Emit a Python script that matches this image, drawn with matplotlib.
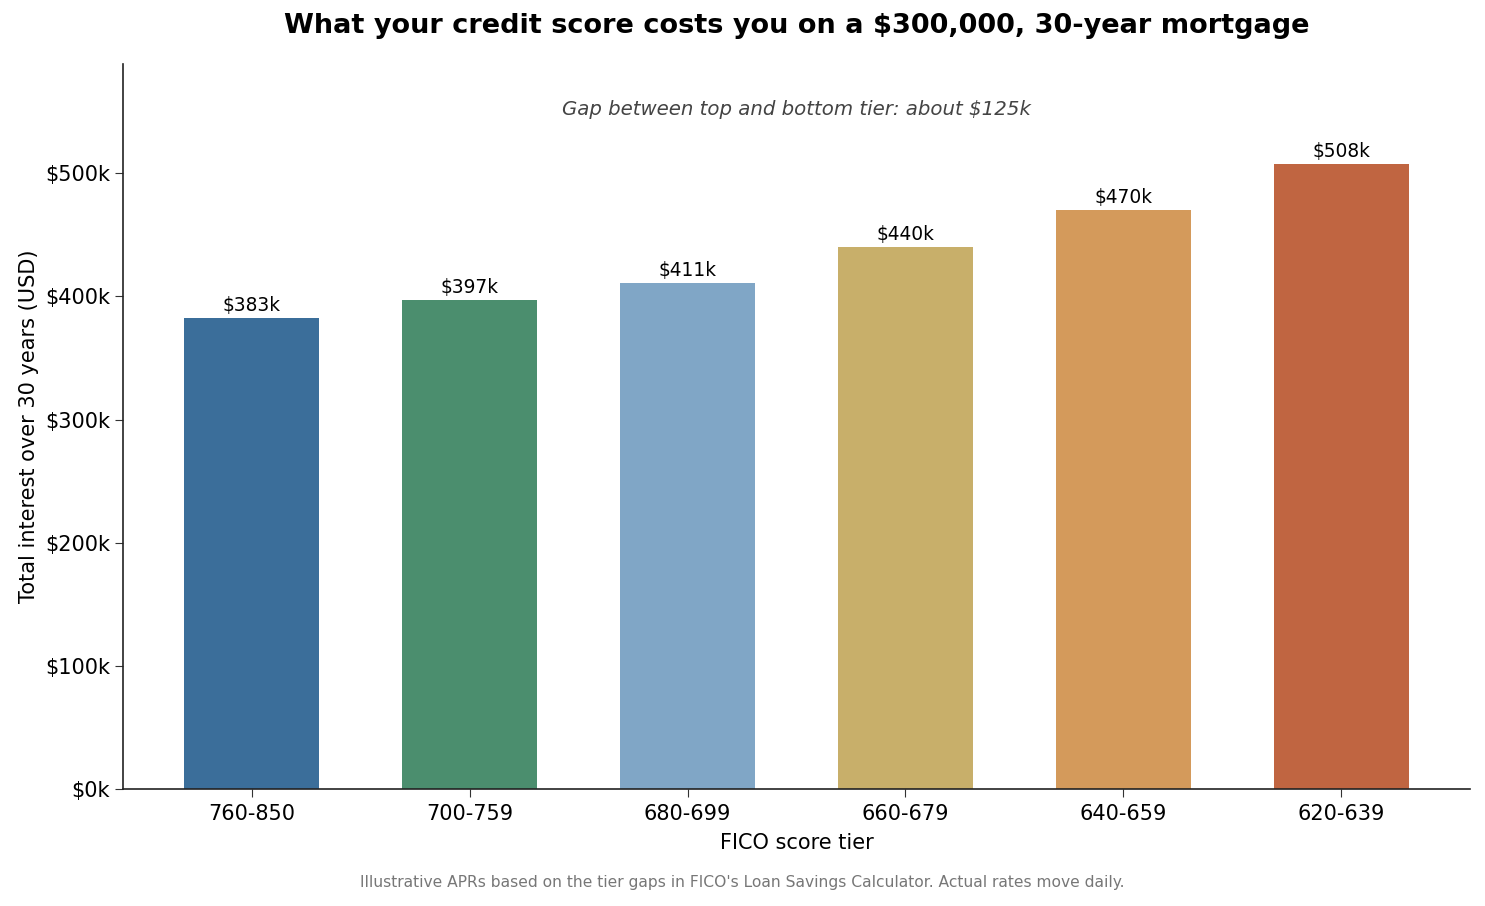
import matplotlib.pyplot as plt
from matplotlib.ticker import FuncFormatter

tiers = ['760-850', '700-759', '680-699', '660-679', '640-659', '620-639']
interest_k = [382.6, 396.9, 410.7, 440.0, 470.1, 507.5]
colors = ['#3b6e9a', '#4b8e6e', '#80a6c6', '#c8af6a', '#d49a5b', '#c06541']

fig = plt.figure(figsize=(14.85, 9.06), dpi=100)
ax = fig.add_axes([123 / 1485, 1 - 789 / 906, (1470 - 123) / 1485, (789 - 64) / 906])

x = range(len(tiers))
bars = ax.bar(x, interest_k, width=0.62, color=colors)

# value labels above bars
for b, v in zip(bars, interest_k):
    ax.text(b.get_x() + b.get_width() / 2, v + 2.5, f'${v:.0f}k',
            ha='center', va='bottom', fontsize=13.4)

ax.set_xticks(list(x))
ax.set_xticklabels(tiers)
ax.set_ylim(0, max(interest_k) * 1.16)
ax.yaxis.set_major_formatter(FuncFormatter(lambda v, p: f'${v:.0f}k'))
ax.tick_params(labelsize=15, length=6, color='#333333')
ax.tick_params(axis='x', pad=5)

ax.set_xlabel('FICO score tier', fontsize=15, labelpad=6)
ax.set_ylabel('Total interest over 30 years (USD)', fontsize=15)
ax.spines['top'].set_visible(False)
ax.spines['right'].set_visible(False)
for s in ['left', 'bottom']:
    ax.spines[s].set_color('#222222')
    ax.spines[s].set_linewidth(1.2)

ax.text(0.5, 0.937, 'Gap between top and bottom tier: about $125k',
        transform=ax.transAxes, ha='center', va='center',
        fontsize=14.2, style='italic', color='#444444')

ax.set_title('What your credit score costs you on a $300,000, 30-year mortgage',
             fontsize=19.5, fontweight='bold', pad=22)
fig.text(0.5, 1 - 883 / 906,
         "Illustrative APRs based on the tier gaps in FICO's Loan Savings Calculator. Actual rates move daily.",
         ha='center', va='center', fontsize=11.2, color='#777777')

fig.savefig('out.png', dpi=100)
